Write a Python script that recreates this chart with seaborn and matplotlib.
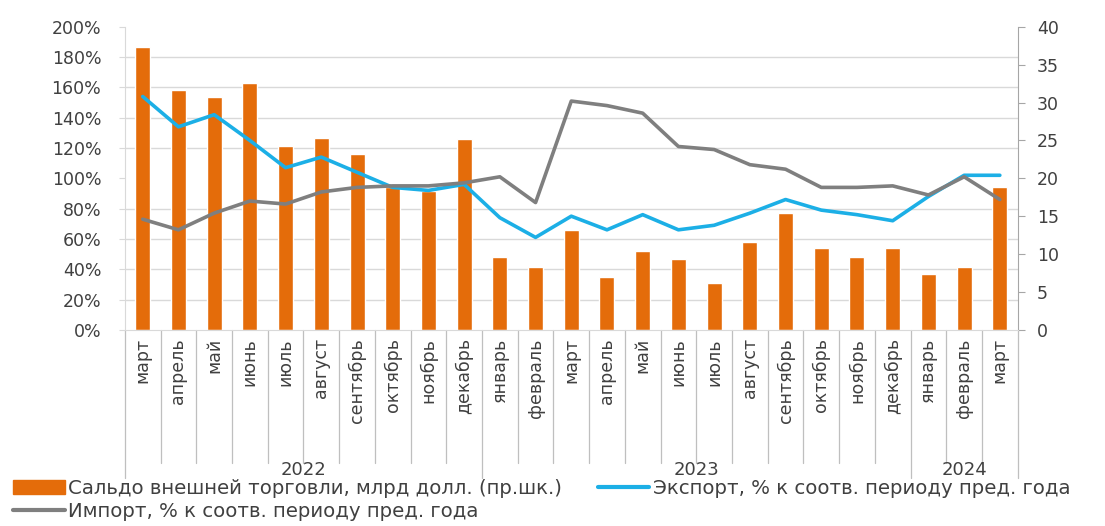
import numpy as np
import pandas as pd
import matplotlib
matplotlib.use('Agg')
import matplotlib.pyplot as plt
import matplotlib.transforms as mtransforms
from matplotlib.patches import Patch
from matplotlib.lines import Line2D
from matplotlib.ticker import FuncFormatter
import seaborn as sns

# данные (март 2022 - март 2024)
months = ['март', 'апрель', 'май', 'июнь', 'июль', 'август', 'сентябрь', 'октябрь',
          'ноябрь', 'декабрь', 'январь', 'февраль', 'март', 'апрель', 'май', 'июнь',
          'июль', 'август', 'сентябрь', 'октябрь', 'ноябрь', 'декабрь', 'январь',
          'февраль', 'март']
years = ['2022', '2023', '2024']
year_first = [0, 10, 22]
year_last = [9, 21, 24]

balance = [37.3, 31.7, 30.7, 32.6, 24.3, 25.3, 23.2, 18.9, 18.3, 25.2, 9.6, 8.3,
           13.2, 7.0, 10.4, 9.4, 6.2, 11.6, 15.4, 10.8, 9.6, 10.8, 7.4, 8.3, 18.9]
export = [154, 134, 142, 125, 107, 114, 104, 94, 92, 96, 74, 61, 75, 66, 76, 66,
          69, 77, 86, 79, 76, 72, 88, 102, 102]
imports = [73, 66, 77, 85, 83, 91, 94, 95, 95, 97, 101, 84, 151, 148, 143, 121,
           119, 109, 106, 94, 94, 95, 89, 101, 86]

lbl_bal = 'Сальдо внешней торговли, млрд долл. (пр.шк.)'
lbl_exp = 'Экспорт, % к соотв. периоду пред. года'
lbl_imp = 'Импорт, % к соотв. периоду пред. года'

df = pd.DataFrame({'pos': np.arange(len(months)), 'balance': balance,
                   'export': export, 'import': imports})

c_bar = '#E46C0A'
c_exp = '#1CAFE6'
c_imp = '#7F7F7F'

sns.set_style('white')
plt.rcParams['font.family'] = ['DejaVu Sans']
fs = 12.5

fig = plt.figure(figsize=(11.05, 5.26), dpi=100)
ax = fig.add_axes([0.113, 0.373, 0.808, 0.576])

# столбцы - правая шкала
sns.barplot(data=df, x='pos', y='balance', color=c_bar, saturation=1, width=0.42, ax=ax)
ax.set_ylim(0, 40)
ax.set_xlim(-0.5, len(months) - 0.5)
ax.set_xlabel('')
ax.set_ylabel('')
for s in ax.spines.values():
    s.set_visible(False)

# линии - левая шкала
ax2 = ax.twinx()
sns.lineplot(data=df, x='pos', y='export', color=c_exp, lw=2.6, ax=ax2)
sns.lineplot(data=df, x='pos', y='import', color=c_imp, lw=2.6, ax=ax2)
ax2.set_ylim(0, 200)
ax2.set_xlabel('')
ax2.set_ylabel('')

# оси меняются сторонами
ax.yaxis.tick_right()
ax2.yaxis.tick_left()

ax.set_yticks(np.arange(0, 41, 5))
ax.set_yticks(np.arange(0, 41, 4), minor=True)
ax.grid(which='minor', axis='y', color='#D9D9D9', lw=1)
ax.set_axisbelow(True)
ax.tick_params(axis='y', which='major', labelsize=fs, length=5, color='#A6A6A6', pad=9,
               labelcolor='#404040', left=False, labelleft=False, right=True, labelright=True)
ax.tick_params(axis='y', which='minor', length=0)
ax.set_xticks(np.arange(len(months)))
ax.set_xticklabels(months, rotation=90, va='top')
ax.tick_params(axis='x', length=0, labelsize=fs, pad=6, labelcolor='#404040')

ax2.set_yticks(np.arange(0, 201, 20))
ax2.yaxis.set_major_formatter(FuncFormatter(lambda v, p: f'{v:.0f}%'))
ax2.tick_params(axis='y', labelsize=fs, length=4, color='#D9D9D9', pad=13,
                labelcolor='#404040', right=False, labelright=False, left=True, labelleft=True)
ax2.spines['top'].set_visible(False)
ax2.spines['left'].set_color('#D9D9D9')
ax2.spines['right'].set_color('#A6A6A6')
ax2.spines['bottom'].set_color('#D9D9D9')

# разделители категорий и годы
trans = mtransforms.blended_transform_factory(ax.transData, ax.transAxes)
bounds = [year_first[0] - 0.5] + [l + 0.5 for l in year_last]
for b in np.arange(-0.5, len(months), 1):
    y_end = -0.49 if b in bounds else -0.44
    ax.plot([b, b], [0, y_end], transform=trans, color='#BFBFBF', lw=0.9, clip_on=False)
for name, a, b in zip(years, year_first, year_last):
    ax.text((a + b) / 2, -0.462, name, transform=trans, ha='center', va='center',
            fontsize=fs + 0.5, color='#404040')

handles = [Patch(color=c_bar), Line2D([], [], color=c_imp, lw=3), Line2D([], [], color=c_exp, lw=3)]
labels = [lbl_bal, lbl_imp, lbl_exp]
fig.legend(handles, labels, loc='upper left', bbox_to_anchor=(0.012, 0.09), ncol=2,
           frameon=False, fontsize=14.2, handlelength=2.6, handletextpad=0.2,
           columnspacing=1.8, labelspacing=0.2, borderaxespad=0, borderpad=0,
           labelcolor='#404040')

fig.savefig('out.png', dpi=100)
